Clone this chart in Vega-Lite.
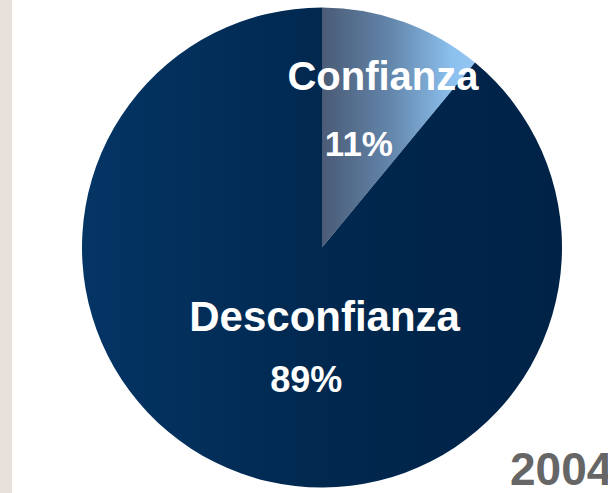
{
  "$schema": "https://vega.github.io/schema/vega-lite/v6.json",
  "width": 596,
  "height": 493,
  "autosize": {"type": "none"},
  "padding": {"left": 12, "top": 0, "right": 0, "bottom": 0},
  "background": "#e8e1db",
  "view": {"fill": "white", "stroke": null},
  "data": {"values": [
    {"cat": "Confianza", "share": 0.11},
    {"cat": "Desconfianza", "share": 0.89}
  ]},
  "layer": [
    {
      "mark": {"type": "arc", "outerRadius": 240, "xOffset": 12, "yOffset": 1},
      "encoding": {
        "theta": {"field": "share", "type": "quantitative", "stack": true},
        "order": {"field": "cat", "type": "nominal"},
        "color": {
          "condition": {
            "test": "datum.cat === 'Confianza'",
            "value": {"gradient": "linear", "x1": 0, "y1": 0, "x2": 1, "y2": 0,
              "stops": [{"offset": 0, "color": "#4a5b76"}, {"offset": 0.45, "color": "#6386ab"}, {"offset": 0.85, "color": "#8cc0ee"}, {"offset": 1, "color": "#93c6f2"}]}
          },
          "value": {"gradient": "linear", "x1": 0, "y1": 0, "x2": 1, "y2": 0,
            "stops": [{"offset": 0, "color": "#043565"}, {"offset": 0.5, "color": "#01284f"}, {"offset": 1, "color": "#002247"}]}
        }
      }
    },
    {
      "mark": {"type": "text", "radius": 180, "xOffset": 12, "yOffset": 1, "font": "Liberation Sans", "fontWeight": "bold", "fontSize": 40, "color": "white"},
      "encoding": {
        "theta": {"field": "share", "type": "quantitative", "stack": true},
        "order": {"field": "cat", "type": "nominal"},
        "text": {"condition": {"test": "datum.cat === 'Confianza'", "field": "cat"}, "value": ""}
      }
    },
    {
      "mark": {"type": "text", "radius": 75, "xOffset": 12, "yOffset": 1, "dx": 28, "font": "Liberation Sans", "fontWeight": "bold", "fontSize": 42, "color": "white"},
      "encoding": {
        "theta": {"field": "share", "type": "quantitative", "stack": true},
        "order": {"field": "cat", "type": "nominal"},
        "text": {"condition": {"test": "datum.cat === 'Desconfianza'", "field": "cat"}, "value": ""}
      }
    },
    {
      "mark": {"type": "text", "radius": 109, "xOffset": 12, "yOffset": 1, "font": "Liberation Sans", "fontWeight": "bold", "fontSize": 35, "color": "white"},
      "encoding": {
        "theta": {"field": "share", "type": "quantitative", "stack": true},
        "order": {"field": "cat", "type": "nominal"},
        "text": {"condition": {"test": "datum.cat === 'Confianza'", "field": "share", "format": ".0%"}, "value": ""}
      }
    },
    {
      "mark": {"type": "text", "radius": 135, "xOffset": 12, "yOffset": 1, "dx": 30, "dy": 6, "font": "Liberation Sans", "fontWeight": "bold", "fontSize": 36, "color": "white"},
      "encoding": {
        "theta": {"field": "share", "type": "quantitative", "stack": true},
        "order": {"field": "cat", "type": "nominal"},
        "text": {"condition": {"test": "datum.cat === 'Desconfianza'", "field": "share", "format": ".0%"}, "value": ""}
      }
    },
    {
      "data": {"values": [{"year": "2004"}]},
      "mark": {"type": "text", "x": {"expr": "width"}, "y": {"expr": "height"}, "dx": -98, "dy": -8, "align": "left", "baseline": "alphabetic", "font": "Liberation Sans", "fontWeight": "bold", "fontSize": 46, "color": "#666666"},
      "encoding": {"text": {"field": "year", "type": "nominal"}}
    }
  ]
}
